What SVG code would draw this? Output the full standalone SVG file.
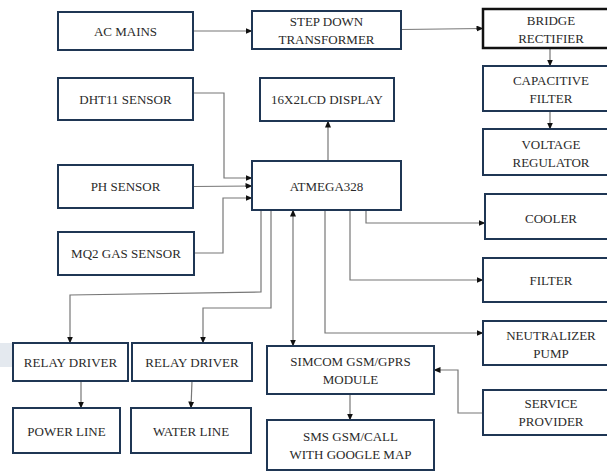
<svg xmlns="http://www.w3.org/2000/svg" width="607" height="471" viewBox="0 0 607 471">
<defs>
<marker id="ah" markerUnits="userSpaceOnUse" markerWidth="7" markerHeight="6" refX="6.5" refY="3" orient="auto">
<path d="M0,0 L7,3 L0,6 Z" fill="#111"/>
</marker>
<style>
.box{fill:#fff;stroke:#1f3654;stroke-width:2}
.bk{fill:#fff;stroke:#111;stroke-width:2.5}
.t{font-family:"Liberation Serif","Times New Roman",serif;font-size:13px;fill:#2a2a2a;text-anchor:middle}
.c{fill:none;stroke:#777;stroke-width:1.2}
.a{marker-end:url(#ah)}
</style>
</defs>
<rect x="0" y="343" width="13" height="24" fill="#e4e9ef"/>
<g id="connectors">
<path class="c a" d="M193,31 L252,31"/>
<path class="c a" d="M401,29.5 L483,28.5"/>
<path class="c a" d="M550,48 L550,66"/>
<path class="c a" d="M550,111 L550,129"/>
<path class="c a" d="M193,93 L224,93 L224,178 L252,178"/>
<path class="c a" d="M193,186.5 L252,186"/>
<path class="c a" d="M194,253 L223,253 L223,198 L252,198"/>
<path class="c a" d="M328,161 L328,121"/>
<path class="c a" d="M366,210 L366,223 L485,223"/>
<path class="c a" d="M350,208 L350,280 L483,280"/>
<path class="c a" d="M325,210 L325,333 L483,333"/>
<path class="c a" d="M261,210 L261,292 L70,295 L70,343"/>
<path class="c a" d="M271,210 L271,308 L203,308 L203,343"/>
<path class="c a" d="M293,300 L293,346"/>
<path class="c a" d="M293,300 L293,210"/>
<path class="c a" d="M350,394 L350,420"/>
<path class="c a" d="M81,381 L81,408"/>
<path class="c a" d="M192,381 L191,408"/>
<path class="c a" d="M483,413 L458,413 L458,370 L434,370"/>
</g>
<g id="ac-mains"><rect class="box" x="58" y="12" width="135" height="38"/><text class="t" x="125.5" y="35.5">AC MAINS</text></g>
<g id="step-down"><rect class="box" x="252" y="11" width="149" height="38"/><text class="t" x="326.5" y="26">STEP DOWN</text><text class="t" x="326.5" y="44">TRANSFORMER</text></g>
<g id="bridge"><rect class="bk" x="483" y="9" width="130" height="39"/><text class="t" x="551" y="25">BRIDGE</text><text class="t" x="551" y="43">RECTIFIER</text></g>
<g id="capacitive"><rect class="box" x="483" y="66" width="130" height="45"/><text class="t" x="551" y="85">CAPACITIVE</text><text class="t" x="551" y="103">FILTER</text></g>
<g id="voltage"><rect class="box" x="483" y="129" width="130" height="46"/><text class="t" x="551" y="148.5">VOLTAGE</text><text class="t" x="551" y="166.5">REGULATOR</text></g>
<g id="dht11"><rect class="box" x="58" y="78" width="135" height="42"/><text class="t" x="125.5" y="103.5">DHT11 SENSOR</text></g>
<g id="lcd"><rect class="box" x="260" y="78" width="134" height="43"/><text class="t" x="327" y="104">16X2LCD DISPLAY</text></g>
<g id="atmega"><rect class="box" x="252" y="161" width="149" height="49"/><text class="t" x="326.5" y="190.5">ATMEGA328</text></g>
<g id="ph"><rect class="box" x="58" y="165" width="135" height="43"/><text class="t" x="125.5" y="191">PH SENSOR</text></g>
<g id="mq2"><rect class="box" x="58" y="232" width="136" height="43"/><text class="t" x="126" y="258">MQ2 GAS SENSOR</text></g>
<g id="cooler"><rect class="box" x="485" y="194" width="128" height="45"/><text class="t" x="551" y="223">COOLER</text></g>
<g id="filter"><rect class="box" x="483" y="258" width="130" height="44"/><text class="t" x="551" y="284.5">FILTER</text></g>
<g id="neutralizer"><rect class="box" x="483" y="321" width="130" height="44"/><text class="t" x="551" y="339.5">NEUTRALIZER</text><text class="t" x="551" y="357.5">PUMP</text></g>
<g id="relay1"><rect class="box" x="13" y="343" width="115" height="38"/><text class="t" x="70.5" y="366.5">RELAY DRIVER</text></g>
<g id="relay2"><rect class="box" x="132" y="343" width="120" height="38"/><text class="t" x="192" y="366.5">RELAY DRIVER</text></g>
<g id="power-line"><rect class="box" x="13" y="408" width="107" height="45"/><text class="t" x="66.5" y="435.5">POWER LINE</text></g>
<g id="water-line"><rect class="box" x="131" y="408" width="120" height="45"/><text class="t" x="191" y="435.5">WATER LINE</text></g>
<g id="simcom"><rect class="box" x="267" y="346" width="167" height="48"/><text class="t" x="350.5" y="366">SIMCOM GSM/GPRS</text><text class="t" x="350.5" y="384">MODULE</text></g>
<g id="sms"><rect class="box" x="267" y="420" width="167" height="50"/><text class="t" x="350.5" y="441">SMS GSM/CALL</text><text class="t" x="350.5" y="459">WITH GOOGLE MAP</text></g>
<g id="service"><rect class="box" x="483" y="390" width="130" height="45"/><text class="t" x="551" y="408">SERVICE</text><text class="t" x="551" y="426">PROVIDER</text></g>
</svg>
